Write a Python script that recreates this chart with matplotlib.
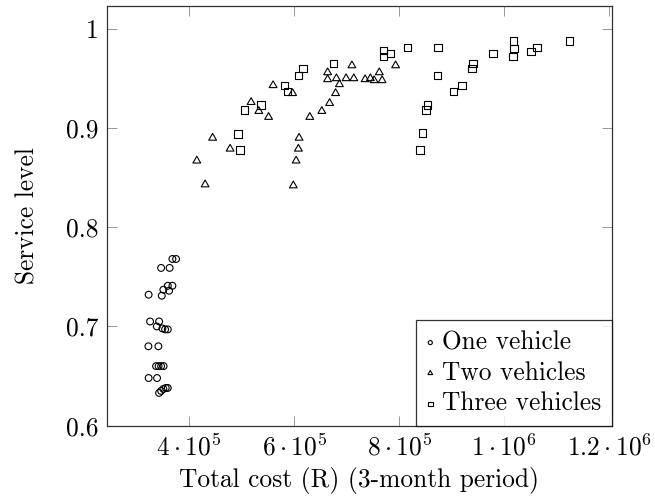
import numpy as np
import matplotlib
matplotlib.use("Agg")
import matplotlib.pyplot as plt
from matplotlib.path import Path

plt.rcParams['font.family'] = 'serif'
plt.rcParams['font.serif'] = ['cmr10', 'DejaVu Serif']
plt.rcParams['mathtext.fontset'] = 'cm'
plt.rcParams['axes.formatter.use_mathtext'] = True

# one vehicle
one_cost = [368200, 375200, 346700, 362900, 322900, 348000, 351000, 359400,
            368200, 361900, 325700, 342900, 338500, 349100, 354300, 359400,
            322500, 341500, 337100, 341900, 346700, 351400, 322900, 339000,
            342900, 346700, 351000, 355600, 359400]
one_level = [0.768, 0.768, 0.759, 0.759, 0.732, 0.731, 0.737, 0.741,
             0.741, 0.736, 0.705, 0.705, 0.700, 0.698, 0.697, 0.697,
             0.680, 0.680, 0.660, 0.660, 0.660, 0.660, 0.648, 0.648,
             0.633, 0.635, 0.637, 0.638, 0.638]

# two vehicles
two_cost = [560000, 518100, 532800, 551400, 444800, 478100, 414700, 430500,
            597100, 609500, 608200, 603800, 598500, 629900, 652800, 667600,
            679000, 686300, 663800, 663800, 680600, 699000, 713700, 710100,
            735200, 745300, 752400, 762300, 767600, 793300]
two_level = [0.943, 0.926, 0.917, 0.911, 0.890, 0.879, 0.867, 0.843,
             0.935, 0.890, 0.879, 0.867, 0.842, 0.911, 0.917, 0.925,
             0.935, 0.944, 0.956, 0.949, 0.950, 0.950, 0.950, 0.963,
             0.949, 0.950, 0.948, 0.956, 0.948, 0.963]

# three vehicles
three_cost = [493700, 496800, 505700, 537100, 581500, 587200, 608000, 617100,
              674900, 770100, 770100, 783400, 816200, 839600, 844200, 851400,
              853700, 873300, 873900, 903400, 920000, 938500, 941000, 978500,
              1017500, 1019000, 1016600, 1050900, 1062500, 1124400]
three_level = [0.894, 0.878, 0.918, 0.923, 0.943, 0.937, 0.953, 0.960,
               0.965, 0.978, 0.972, 0.975, 0.981, 0.878, 0.895, 0.918,
               0.923, 0.953, 0.981, 0.937, 0.943, 0.960, 0.965, 0.975,
               0.988, 0.980, 0.972, 0.977, 0.981, 0.988]

xticks = [4e5, 6e5, 8e5, 1e6, 1.2e6]
xticklabels = [r'$4\cdot10^{5}$', r'$6\cdot10^{5}$', r'$8\cdot10^{5}$',
               r'$1\cdot10^{6}$', r'$1.2\cdot10^{6}$']
yticks = [0.6, 0.7, 0.8, 0.9, 1.0]
yticklabels = ['0.6', '0.7', '0.8', '0.9', '1']

# equilateral triangle like the tikz "triangle" mark
tri = Path([(0, 1), (-0.866, -0.5), (0.866, -0.5), (0, 1)],
           [Path.MOVETO, Path.LINETO, Path.LINETO, Path.CLOSEPOLY])

fig = plt.figure(figsize=(6.55, 4.99), dpi=100)
ax = fig.add_axes([0.163, 0.147, 0.771, 0.841])

kw = dict(facecolor='none', edgecolor='black', linewidths=0.8)
ax.scatter(one_cost, one_level, marker='o', s=24, label='One vehicle', **kw)
ax.scatter(two_cost, two_level, marker=tri, s=42, label='Two vehicles', **kw)
ax.scatter(three_cost, three_level, marker='s', s=30, label='Three vehicles', **kw)

ax.set_xlim(243200, 1205000)
ax.set_ylim(0.6, 1.023)
ax.set_xticks(xticks)
ax.set_xticklabels(xticklabels)
ax.set_yticks(yticks)
ax.set_yticklabels(yticklabels)

fs = 18.3
ax.tick_params(direction='in', length=7, width=0.6, color='#888888',
               top=True, right=True, labelsize=fs, pad=6)
for sp in ax.spines.values():
    sp.set_linewidth(0.9)
    sp.set_color('#333333')

ax.set_xlabel('Total cost (R) (3-month period)', fontsize=fs, labelpad=5)
ax.set_ylabel('Service level', fontsize=fs, labelpad=19)

leg = ax.legend(loc='lower right', fontsize=fs, markerscale=0.6,
                frameon=True, fancybox=False, borderaxespad=0,
                handlelength=0.35, handletextpad=0.3, labelspacing=0.27,
                borderpad=0.4)
leg.get_frame().set_edgecolor('black')
leg.get_frame().set_linewidth(0.9)

fig.savefig('out.png', dpi=100)
